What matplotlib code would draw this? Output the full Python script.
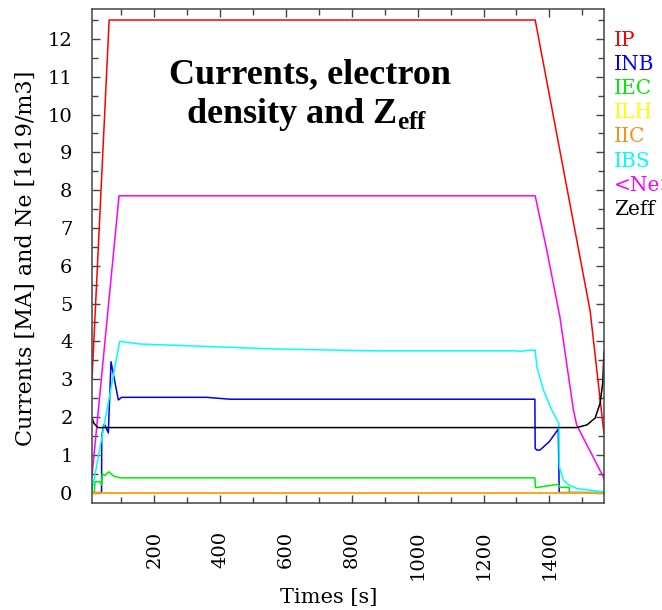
import matplotlib
matplotlib.use('Agg')
import matplotlib.pyplot as plt
from matplotlib.ticker import MultipleLocator

# time axis [s] and signals
t_ip = [11, 63, 1357, 1524, 1566]
ip = [3.0, 12.5, 12.5, 4.8, 1.55]

t_nb = [11, 40, 40.5, 47, 50.5, 60.5, 68.7, 91, 101, 359, 430, 1356, 1357, 1363, 1372, 1400, 1427, 1430, 1566]
inb = [0, 0, 1.5, 1.8, 1.78, 1.58, 3.46, 2.45, 2.52, 2.52, 2.47, 2.47, 1.17, 1.12, 1.13, 1.35, 1.68, 0, 0]

t_ec = [11, 18, 20, 35, 40, 42, 50, 62, 76, 96, 1356, 1358, 1427, 1432, 1460, 1461, 1566]
iec = [0, 0, 0.29, 0.29, 0.2, 0.5, 0.45, 0.55, 0.44, 0.39, 0.39, 0.13, 0.22, 0.14, 0.14, 0, 0]

t_lh = [11, 1566]
ilh = [0, 0]

t_ic = [11, 1566]
iic = [0, 0]

t_bs = [11, 95, 157, 562, 865, 1301, 1310, 1331, 1357, 1362, 1382, 1407, 1429, 1430, 1443, 1460, 1483, 1566]
ibs = [0.05, 4.0, 3.93, 3.80, 3.75, 3.75, 3.73, 3.76, 3.77, 3.33, 2.71, 2.19, 1.83, 0.69, 0.33, 0.2, 0.11, 0.02]

t_ne = [11, 93, 1357, 1392, 1432, 1473, 1483, 1566]
ne = [0.45, 7.85, 7.85, 6.42, 4.65, 2.19, 1.79, 0.38]

t_z = [11, 17, 29, 1483, 1514, 1539, 1554, 1562, 1566]
zeff = [1.97, 1.83, 1.72, 1.72, 1.79, 1.97, 2.36, 2.89, 3.73]

names = ['IP', 'INB', 'IEC', 'ILH', 'IIC', 'IBS', '<Ne>', 'Zeff']
colors = ['#ff0000', '#0000ff', '#00ee00', '#ffff00', '#ff8c1a', '#00ffff', '#ff00ff', '#000000']

plt.rcParams['font.family'] = 'DejaVu Serif'
plt.rcParams['mathtext.fontset'] = 'custom'
plt.rcParams['mathtext.rm'] = 'Liberation Serif:bold'
plt.rcParams['mathtext.bf'] = 'Liberation Serif:bold'

fig = plt.figure(figsize=(6.62, 6.10), dpi=100)
ax = fig.add_axes([0.139, 0.1754, 0.7734, 0.8098])

series = [(t_ip, ip), (t_nb, inb), (t_ec, iec), (t_lh, ilh), (t_ic, iic),
          (t_bs, ibs), (t_ne, ne), (t_z, zeff)]
for (t, v), c in zip(series, colors):
    ax.plot(t, v, color=c, lw=1.1)

ax.set_xlim(11, 1566)
ax.set_ylim(-0.275, 12.79)
ax.xaxis.set_major_locator(MultipleLocator(200))
ax.xaxis.set_minor_locator(MultipleLocator(100))
ax.yaxis.set_major_locator(MultipleLocator(1))
ax.yaxis.set_minor_locator(MultipleLocator(0.5))
ax.tick_params(which='both', direction='in', top=True, right=True, color='#444444', width=1.0)
ax.tick_params(which='major', length=6)
ax.tick_params(which='minor', length=4)
ax.tick_params(axis='y', which='major', labelsize=14, pad=14)
ax.tick_params(axis='x', which='major', labelsize=14, pad=20, labelrotation=90)
for s in ax.spines.values():
    s.set_color('#444444')
    s.set_linewidth(1.1)

ax.set_xlabel('Times [s]', fontsize=15)
ax.xaxis.set_label_coords(0.463, -0.172)
ax.set_ylabel('Currents [MA] and Ne [1e19/m3]', fontsize=16)
ax.yaxis.set_label_coords(-0.107, 0.496)

# legend as coloured labels at the right
for i, (n, c) in enumerate(zip(names, colors)):
    fig.text(614 / 662, 1 - (40.5 + 24.1 * i) / 610, n, color=c, fontsize=14.5,
             ha='left', va='center')

fig.text(310 / 662, 1 - 83 / 610, 'Currents, electron', fontsize=26,
         family='Liberation Serif', weight='bold', ha='center', va='baseline')
fig.text(307 / 662, 1 - 123 / 610, r'density and Z$_{\mathbf{eff}}$', fontsize=26,
         family='Liberation Serif', weight='bold', ha='center', va='baseline')

fig.savefig('out.png', dpi=100)
